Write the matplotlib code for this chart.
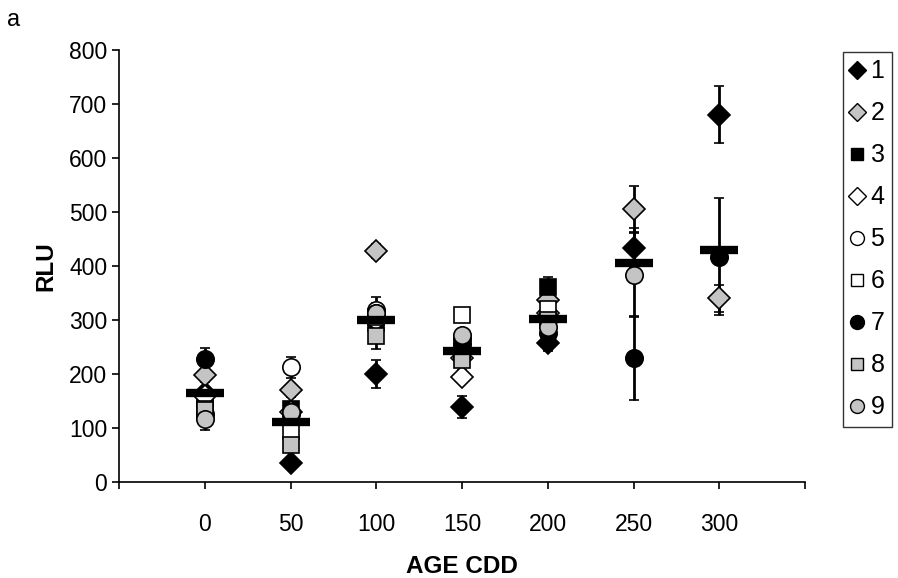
import numpy as np
import matplotlib.pyplot as plt
from matplotlib.lines import Line2D

plt.rcParams['font.family'] = ['Liberation Sans', 'DejaVu Sans']

nan = np.nan
ages = [0, 50, 100, 150, 200, 250, 300]
labels = ['1', '2', '3', '4', '5', '6', '7', '8', '9']

# values per series (RLU) and their error bars
s1 = [165, 35, 200, 139, 257, 433, 680]
e1 = [10, 10, 26, 21, 14, 37, 52]
s2 = [198, 170, 428, 230, 337, 505, 340]
e2 = [12, 12, 13, 15, 14, 42, 25]
s3 = [155, 135, 295, 240, 360, nan, nan]
e3 = [10, 10, 48, 10, 20, nan, nan]
s4 = [160, 130, 300, 195, 312, nan, nan]
e4 = [10, 10, 10, 12, 10, nan, nan]
s5 = [125, 212, 318, 265, 300, nan, nan]
e5 = [10, 20, 10, 10, 10, nan, nan]
s6 = [135, 95, 305, 310, 320, nan, nan]
e6 = [10, 10, 10, 10, 10, nan, nan]
s7 = [228, 125, 312, 255, 275, 230, 417]
e7 = [20, 10, 20, 10, 10, 78, 108]
s8 = [133, 68, 270, 226, 300, nan, nan]
e8 = [10, 10, 10, 10, 10, nan, nan]
s9 = [117, 130, 312, 272, 287, 383, nan]
e9 = [21, 10, 15, 10, 10, 78, nan]
means = [165, 112, 300, 243, 302, 405, 430]

series = [s1, s2, s3, s4, s5, s6, s7, s8, s9]
errs = [e1, e2, e3, e4, e5, e6, e7, e8, e9]
gray = '#c4c4c4'
styles = [('D', 'black', 11.5), ('D', gray, 11.5), ('s', 'black', 11.5),
          ('D', 'white', 11.5), ('o', 'white', 12.5), ('s', 'white', 11.5),
          ('o', 'black', 12.5), ('s', gray, 11.5), ('o', gray, 12.5)]

fig = plt.figure(figsize=(8.98, 5.78), dpi=100)
ax = fig.add_axes([0.1325, 0.166, 0.764, 0.748])

for s, e, (m, c, ms) in zip(series, errs, styles):
    ax.errorbar(ages, s, yerr=e, fmt=m, color='black', mfc=c, mec='black',
                mew=1.2, ms=ms, ecolor='black', elinewidth=2, capsize=3.5,
                capthick=2.2)

ax.plot(ages, means, '_', color='black', ms=28, mew=6, zorder=5)

ax.set_xlim(-50, 350)
ax.set_ylim(0, 800)
ax.set_xticks(np.arange(-50, 351, 50))
ax.set_xticklabels([''] + [str(a) for a in ages] + [''])
ax.set_yticks(np.arange(0, 801, 100))
ax.spines['top'].set_visible(False)
ax.spines['right'].set_visible(False)
ax.spines['left'].set_linewidth(1.2)
ax.spines['bottom'].set_linewidth(1.2)
ax.tick_params(labelsize=16.5, width=1.2, length=5)
ax.tick_params(axis='x', pad=17)
ax.set_xlabel('AGE CDD', fontsize=17.5, fontweight='bold', labelpad=14)
ax.set_ylabel('RLU', fontsize=17.5, fontweight='bold', labelpad=8)

handles = [Line2D([], [], linestyle='none', marker=m, mfc=c, mec='black',
                  mew=1, ms=ms * 0.8) for m, c, ms in styles]
leg = fig.legend(handles, labels, loc='upper left',
                 bbox_to_anchor=(843 / 898, 1 - 52 / 578), fontsize=18,
                 frameon=True, fancybox=False, edgecolor='black',
                 handlelength=0.55, handletextpad=0.25, labelspacing=0.72,
                 borderpad=0.3, borderaxespad=0)
leg.get_frame().set_linewidth(1)

fig.text(0.008, 0.955, 'a', fontsize=17)

fig.savefig('out.png', dpi=100)
